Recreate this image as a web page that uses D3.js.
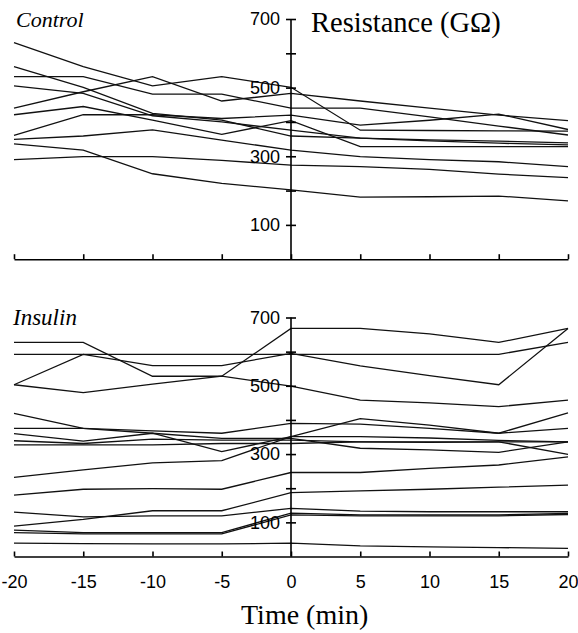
<!DOCTYPE html>
<html>
<head>
<meta charset="utf-8">
<script src="https://cdn.jsdelivr.net/npm/d3@7"></script>
<style>
  body { margin: 0; background: #fff; }
  svg { display: block; }
  .axis path, .axis line { stroke: #000; stroke-width: 1.6; }
  .axis text { font-family: "Liberation Sans", Arial, sans-serif; font-size: 18px; fill: #000; }
  .trace { fill: none; stroke: #111; stroke-width: 1.3; }
</style>
</head>
<body>
<div id="chart"></div>
<script>
// Time points (min)
const times = [-20, -15, -10, -5, 0, 5, 10, 15, 20];
const xTicks = [-20, -15, -10, -5, 0, 5, 10, 15, 20];
const yTicks = [100, 200, 300, 400, 500, 600, 700];
const yLabels = [100, 300, 500, 700];

// Control cells, resistance (GOhm)
const controlA = [631, 561, 505, 532, 501, 376, 375, 374, 373];
const controlB = [561, 501, 425, 405, 359, 353, 348, 344, 339];
const controlC = [532, 532, 481, 481, 440, 440, 415, 388, 362];
const controlD = [505, 483, 418, 400, 376, 353, 345, 338, 333];
const controlE = [440, 488, 532, 461, 483, 461, 440, 420, 404];
const controlF = [421, 445, 405, 364, 404, 328, 328, 328, 328];
const controlG = [361, 421, 421, 410, 420, 391, 405, 423, 378];
const controlH = [349, 359, 377, 347, 318, 299, 290, 284, 270];
const controlI = [336, 318, 249, 221, 202, 181, 182, 184, 170];
const controlJ = [290, 299, 299, 288, 274, 270, 262, 248, 238];

// Insulin cells, resistance (GOhm)
const insulinP1 = [627, 627, 528, 528, 499, 458, 450, 439, 458];
const insulinP2 = [592, 592, 592, 592, 592, 592, 592, 592, 627];
const insulinP3 = [503, 592, 559, 559, 595, 558, 530, 503, 668];
const insulinP4 = [503, 480, 505, 528, 668, 668, 652, 627, 668];
const insulinM1 = [419, 375, 361, 307, 351, 404, 385, 361, 421];
const insulinM2 = [375, 375, 368, 361, 390, 388, 375, 361, 375];
const insulinM3 = [360, 338, 361, 346, 346, 317, 312, 305, 336];
const insulinM4 = [339, 331, 344, 341, 341, 336, 334, 336, 336];
const insulinM5 = [327, 327, 327, 331, 331, 336, 336, 336, 299];
const insulinN0 = [232, 254, 274, 281, 351, 351, 347, 340, 336];
const insulinN1 = [180, 197, 199, 197, 246, 246, 258, 268, 292];
const insulinB1 = [130, 116, 119, 119, 141, 133, 131, 131, 131];
const insulinB2 = [89, 109, 134, 134, 187, 192, 197, 203, 209];
const insulinB3 = [77, 70, 70, 70, 127, 122, 122, 122, 126];
const insulinB4 = [70, 66, 66, 66, 122, 119, 119, 119, 123];
const insulinB5 = [39, 38, 37, 37, 39, 31, 28, 26, 24];

const controlSeries = [controlA, controlB, controlC, controlD, controlE,
  controlF, controlG, controlH, controlI, controlJ];
const insulinSeries = [insulinP1, insulinP2, insulinP3, insulinP4, insulinM1,
  insulinM2, insulinM3, insulinM4, insulinM5, insulinN0, insulinN1,
  insulinB1, insulinB2, insulinB3, insulinB4, insulinB5];

const W = 578, H = 633;
const svg = d3.select('#chart').append('svg')
  .attr('width', W)
  .attr('height', H);

const x = d3.scaleLinear().domain([-20, 20]).range([14, 568]);
const yTop = d3.scaleLinear().domain([0, 700]).range([259.2, 19]);
const yBot = d3.scaleLinear().domain([0, 700]).range([556.5, 317.5]);

function drawPanel(y, series, showLabels) {
  const g = svg.append('g');

  // data traces
  const line = d3.line()
    .x((d, i) => x(times[i]))
    .y(d => y(d));
  g.selectAll('.trace')
    .data(series)
    .enter()
    .append('path')
    .attr('class', 'trace')
    .attr('d', line);

  // x axis, ticks pointing up
  const xAxis = d3.axisBottom(x)
    .tickValues(xTicks)
    .tickSizeInner(-5)
    .tickSizeOuter(0)
    .tickPadding(19)
    .tickFormat(showLabels ? d => String(d) : () => '');
  g.append('g')
    .attr('class', 'axis')
    .attr('transform', 'translate(0,' + y(0) + ')')
    .call(xAxis);

  // y axis at t = 0, ticks crossing
  const yAxis = d3.axisLeft(y)
    .tickValues(yTicks)
    .tickSizeInner(5)
    .tickSizeOuter(0)
    .tickPadding(6)
    .tickFormat(d => yLabels.includes(d) ? d : '');
  const ya = g.append('g')
    .attr('class', 'axis')
    .attr('transform', 'translate(' + x(0) + ',0)')
    .call(yAxis);
  ya.selectAll('.tick line').attr('x1', 5).attr('x2', -5);
  ya.select('.domain').attr('d', 'M0,' + y(0) + 'V' + y(700));
  return g;
}

drawPanel(yTop, controlSeries, false);
drawPanel(yBot, insulinSeries, true);

// titles
svg.append('text')
  .attr('x', 16).attr('y', 27)
  .style('font-family', '"Liberation Serif", "Times New Roman", serif')
  .style('font-style', 'italic')
  .style('font-size', '22px')
  .text('Control');

svg.append('text')
  .attr('x', 13).attr('y', 325)
  .style('font-family', '"Liberation Serif", "Times New Roman", serif')
  .style('font-style', 'italic')
  .style('font-size', '23px')
  .text('Insulin');

svg.append('text')
  .attr('x', 311).attr('y', 32)
  .style('font-family', '"Liberation Serif", "Times New Roman", serif')
  .style('font-size', '28.5px')
  .text('Resistance (GΩ)');

svg.append('text')
  .attr('x', 241).attr('y', 624)
  .style('font-family', '"Liberation Serif", "Times New Roman", serif')
  .style('font-size', '28px')
  .text('Time (min)');
</script>
</body>
</html>
